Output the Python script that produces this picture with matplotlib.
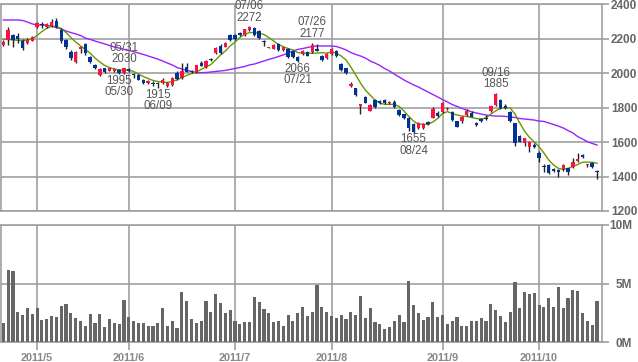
import numpy as np
import matplotlib
matplotlib.use("Agg")
import matplotlib.pyplot as plt

plt.rcParams['font.family'] = ['Liberation Sans', 'DejaVu Sans']

# ---------------- data ----------------
dates = [
    "04/20", "04/21", "04/22", "04/25", "04/26", "04/27", "04/28",
    "05/02", "05/06", "05/09", "05/10", "05/11", "05/12", "05/13", "05/16", "05/17", "05/18", "05/19",
    "05/20", "05/23", "05/24", "05/25", "05/26", "05/27", "05/30", "05/31",
    "06/01", "06/02", "06/03", "06/06", "06/07", "06/08", "06/09", "06/10", "06/13", "06/14", "06/15",
    "06/16", "06/17", "06/20", "06/21", "06/22", "06/23", "06/24", "06/27", "06/28", "06/29", "06/30",
    "07/01", "07/04", "07/05", "07/06", "07/07", "07/08", "07/11", "07/12", "07/13", "07/14", "07/15",
    "07/19", "07/20", "07/21", "07/22", "07/25", "07/26", "07/27", "07/28", "07/29",
    "08/01", "08/02", "08/03", "08/04", "08/05", "08/08", "08/09", "08/10", "08/11", "08/12", "08/15",
    "08/16", "08/17", "08/18", "08/19", "08/22", "08/23", "08/24", "08/25", "08/26", "08/29", "08/30", "08/31",
    "09/01", "09/02", "09/05", "09/06", "09/07", "09/08", "09/09", "09/12", "09/13", "09/14", "09/15",
    "09/16", "09/20", "09/21", "09/22", "09/26", "09/27", "09/28", "09/29", "09/30",
    "10/03", "10/04", "10/05", "10/06", "10/07", "10/11", "10/12", "10/13", "10/14", "10/17", "10/18",
    "10/19", "10/20",
]

opens = [
    2164, 2193, 2222, 2216, 2189, 2174, 2189,
    2270, 2285, 2268, 2274, 2305, 2251, 2193, 2125, 2067, 2142, 2167, 2096, 2048, 1990, 2028, 2015, 2010, 2019, 2000,
    2027, 1994, 1990, 1961, 1941, 1942, 1937, 1942, 1928, 1931, 2000, 1970, 2034, 2012, 2005, 2057, 2034, 2083, 2115, 2158, 2154, 2222,
    2222, 2232, 2222, 2250, 2262, 2247, 2185, 2148, 2141, 2168, 2135, 2139, 2131, 2096, 2110, 2121, 2121, 2141, 2102, 2090,
    2110, 2129, 2053, 2028, 1926, 1912, 1809, 1863, 1782, 1844, 1838, 1844, 1828, 1831, 1786, 1761, 1742, 1703, 1680, 1680, 1715, 1742, 1770,
    1776, 1790, 1777, 1720, 1720, 1757, 1770, 1713, 1733, 1742, 1780, 1815, 1844, 1810, 1777, 1709, 1635, 1593, 1573, 1583,
    1535, 1463, 1467, 1442, 1438, 1442, 1448, 1454, 1490, 1525, 1465, 1480, 1428,
]
highs = [
    2190, 2270, 2228, 2235, 2200, 2205, 2215,
    2300, 2295, 2290, 2312, 2318, 2260, 2200, 2135, 2128, 2158, 2177, 2102, 2052, 2030, 2032, 2030, 2030, 2022, 2030,
    2029, 2000, 1995, 1965, 1958, 1955, 1950, 1975, 1948, 1980, 2010, 2060, 2061, 2020, 2050, 2070, 2075, 2090, 2150, 2170, 2182, 2230,
    2230, 2238, 2258, 2272, 2268, 2252, 2190, 2155, 2168, 2175, 2155, 2145, 2135, 2100, 2132, 2128, 2177, 2170, 2108, 2115,
    2145, 2135, 2058, 2032, 1951, 1915, 1822, 1870, 1820, 1848, 1845, 1848, 1838, 1842, 1790, 1765, 1748, 1710, 1715, 1710, 1722, 1805, 1780,
    1835, 1805, 1782, 1725, 1750, 1790, 1778, 1718, 1740, 1755, 1812, 1885, 1850, 1820, 1780, 1712, 1640, 1625, 1605, 1592,
    1548, 1470, 1472, 1450, 1442, 1470, 1452, 1508, 1535, 1530, 1475, 1485, 1438,
]
lows = [
    2158, 2164, 2155, 2175, 2135, 2170, 2185,
    2265, 2260, 2262, 2270, 2262, 2175, 2142, 2078, 2058, 2120, 2108, 2058, 2022, 1985, 2003, 2010, 2005, 1995, 1998,
    2005, 1972, 1958, 1938, 1935, 1926, 1915, 1938, 1922, 1925, 1960, 1965, 2005, 2000, 2000, 2040, 2030, 2070, 2110, 2110, 2150, 2188,
    2190, 2215, 2218, 2245, 2215, 2198, 2158, 2145, 2138, 2130, 2130, 2090, 2090, 2066, 2105, 2098, 2118, 2128, 2072, 2082,
    2105, 2095, 2015, 1995, 1920, 1868, 1761, 1825, 1778, 1800, 1820, 1820, 1820, 1798, 1752, 1732, 1665, 1655, 1676, 1676, 1700, 1738, 1745,
    1770, 1785, 1722, 1685, 1710, 1752, 1745, 1692, 1715, 1730, 1775, 1812, 1795, 1790, 1718, 1577, 1598, 1575, 1544, 1568,
    1483, 1425, 1415, 1428, 1400, 1435, 1410, 1450, 1485, 1505, 1455, 1448, 1384,
]
closes = [
    2183, 2251, 2193, 2197, 2145, 2193, 2208,
    2293, 2278, 2285, 2295, 2266, 2189, 2150, 2087, 2125, 2154, 2115, 2067, 2028, 2026, 2009, 2028, 2027, 2003, 2028,
    2010, 1990, 1961, 1942, 1955, 1940, 1935, 1961, 1945, 1974, 1967, 2013, 2009, 2009, 2048, 2044, 2071, 2078, 2148, 2115, 2177, 2193,
    2197, 2222, 2255, 2268, 2222, 2203, 2182, 2152, 2164, 2135, 2150, 2096, 2096, 2070, 2129, 2102, 2164, 2131, 2077, 2110,
    2139, 2100, 2019, 1999, 1936, 1873, 1819, 1829, 1815, 1806, 1825, 1825, 1831, 1802, 1757, 1738, 1680, 1660, 1709, 1705, 1705, 1790, 1752,
    1825, 1799, 1728, 1690, 1747, 1782, 1748, 1697, 1720, 1734, 1809, 1880, 1800, 1796, 1724, 1593, 1602, 1622, 1602, 1573,
    1506, 1457, 1419, 1432, 1425, 1467, 1428, 1486, 1502, 1512, 1468, 1454, 1425,
]
volume_m = [
    1.66, 6.18, 6.04, 2.56, 2.30, 2.89, 2.39,
    2.89, 1.88, 1.97, 2.22, 2.13, 3.06, 3.23, 2.47, 2.05, 1.80, 1.38, 2.39, 1.63, 2.39, 1.29, 1.97, 1.63, 1.54, 3.57,
    2.13, 1.80, 1.63, 1.63, 1.38, 1.38, 1.63, 2.89, 1.38, 1.80, 1.21, 4.24, 3.48, 1.97, 1.63, 1.80, 3.48, 2.56, 4.07, 3.31, 2.47, 2.72,
    1.80, 1.54, 1.71, 1.71, 3.82, 3.40, 2.81, 2.47, 1.71, 1.80, 1.38, 2.30, 1.80, 2.47, 2.98, 2.22, 2.56, 4.83, 2.98, 2.56,
    2.22, 2.05, 2.30, 1.97, 2.56, 2.30, 3.90, 2.05, 2.89, 1.71, 1.54, 1.12, 1.29, 1.80, 2.30, 1.71, 5.25, 3.15, 2.47, 1.88, 2.13, 3.40, 2.13,
    2.30, 1.54, 1.80, 2.13, 1.38, 1.38, 1.80, 1.80, 2.05, 1.80, 3.23, 2.72, 2.22, 1.71, 2.56, 5.17, 2.89, 4.24, 4.07, 4.16,
    3.15, 2.98, 3.74, 2.98, 4.66, 2.89, 3.74, 4.41, 4.33, 2.47, 1.80, 1.46, 3.48,
]
ma_short = [
    2197, 2196, 2193, 2191, 2189, 2193, 2199,
    2219, 2242, 2261, 2272, 2271, 2260, 2236, 2207, 2181, 2158, 2138, 2116, 2088, 2065, 2045, 2033, 2024, 2019, 2019,
    2019, 2010, 1995, 1981, 1969, 1958, 1952, 1949, 1946, 1952, 1961, 1975, 1987, 1998, 2007, 2022, 2036, 2050, 2077, 2106, 2129, 2158,
    2181, 2207, 2225, 2236, 2236, 2233, 2225, 2207, 2187, 2167, 2154, 2143, 2135, 2120, 2116, 2116, 2116, 2117, 2119, 2117,
    2123, 2117, 2100, 2077, 2036, 1990, 1943, 1902, 1873, 1844, 1827, 1819, 1819, 1819, 1807, 1781, 1749, 1722, 1705, 1703, 1703, 1717, 1737,
    1766, 1777, 1766, 1757, 1752, 1749, 1743, 1737, 1734, 1740, 1763, 1781, 1796, 1800, 1798, 1763, 1711, 1664, 1627, 1601,
    1572, 1537, 1496, 1467, 1448, 1441, 1448, 1458, 1470, 1483, 1484, 1483, 1477,
]
ma_long = [
    2309, 2309, 2309, 2309, 2306, 2297, 2286,
    2280, 2280, 2277, 2274, 2265, 2257, 2245, 2236, 2228, 2219, 2204, 2196, 2187, 2178, 2170, 2161, 2152, 2146, 2138,
    2132, 2125, 2117, 2109, 2100, 2091, 2082, 2071, 2059, 2048, 2033, 2024, 2016, 2010, 2004, 2003, 2004, 2007, 2010, 2013, 2016, 2022,
    2027, 2033, 2039, 2048, 2053, 2062, 2071, 2080, 2088, 2097, 2106, 2117, 2129, 2138, 2143, 2149, 2155, 2158, 2158, 2158,
    2158, 2155, 2146, 2135, 2120, 2109, 2100, 2088, 2071, 2059, 2045, 2027, 2013, 1995, 1978, 1961, 1946, 1932, 1920, 1905, 1891, 1876, 1862,
    1847, 1833, 1818, 1807, 1796, 1786, 1776, 1769, 1763, 1757, 1754, 1751, 1751, 1749, 1746, 1743, 1737, 1734, 1731, 1728,
    1722, 1720, 1711, 1702, 1693, 1682, 1667, 1653, 1632, 1618, 1603, 1592, 1583,
]

month_starts = ["05/02", "06/01", "07/01", "08/01", "09/01", "10/03"]
month_labels = ["2011/5", "2011/6", "2011/7", "2011/8", "2011/9", "2011/10"]
price_ticks = [1200, 1400, 1600, 1800, 2000, 2200, 2400]
vol_ticks = [0, 5, 10]
vol_tick_labels = ["0M", "5M", "10M"]
# (date, which extreme is labelled)
marks = [("05/31", "high"), ("05/30", "low"), ("06/09", "low"), ("07/06", "high"),
         ("07/21", "low"), ("07/26", "high"), ("08/24", "low"), ("09/16", "high")]

# ---------------- styles ----------------
UP = "#ff1040"
DOWN = "#003399"
WICK = "#222222"
GRID = "#a0a0a0"
VOL = "#666666"
MA_S = "#669900"
MA_L = "#9922ff"

n = len(dates)
xs = np.arange(n)
o = np.array(opens, float); h = np.array(highs, float)
l = np.array(lows, float); c = np.array(closes, float)
month_idx = [dates.index(d) for d in month_starts]

fig = plt.figure(figsize=(6.38, 3.62), dpi=100)
L = 1 / 638
W = (601.5 - 1) / 638
ax = fig.add_axes([L, 1 - 211 / 362, W, (211 - 4.3) / 362])
axv = fig.add_axes([L, 1 - 342.3 / 362, W, (342.3 - 224.7) / 362])

xlim = (-0.476, 123.93)

# ---- price panel ----
ax.plot(xs, ma_long, color=MA_L, lw=1.0, zorder=2)
ax.plot(xs, ma_short, color=MA_S, lw=1.0, zorder=2)
ax.vlines(xs, l, h, color=WICK, lw=1.0, zorder=3)
up = c >= o
bottom = np.minimum(o, c)
height = np.maximum(np.abs(c - o), 6)
ax.bar(xs[up], height[up], bottom=bottom[up], width=0.7, color=UP, zorder=4, linewidth=0)
ax.bar(xs[~up], height[~up], bottom=bottom[~up], width=0.7, color=DOWN, zorder=4, linewidth=0)

for d, kind in marks:
    i = dates.index(d)
    if kind == "high":
        ax.annotate(f"{d}\n{highs[i]}", xy=(i, highs[i]), xytext=(0, 2.0), textcoords="offset points",
                    ha="center", va="bottom", fontsize=8.3, color="#555555", linespacing=0.95, zorder=5)
    else:
        ax.annotate(f"{lows[i]}\n{d}", xy=(i, lows[i]), xytext=(0, -0.5), textcoords="offset points",
                    ha="center", va="top", fontsize=8.3, color="#555555", linespacing=0.95, zorder=5)

ax.set_xlim(*xlim)
ax.set_ylim(1200, 2400)
ax.set_yticks(price_ticks)
ax.set_xticks(month_idx)
ax.grid(True, color=GRID, lw=1.2)
ax.set_axisbelow(True)
ax.yaxis.tick_right()
ax.tick_params(axis="x", length=0, labelbottom=False)
ax.tick_params(axis="y", length=4.7, width=1.2, color=GRID, pad=2, labelsize=8.5, labelcolor="#666666")
for lab in ax.get_yticklabels():
    lab.set_fontweight("bold")
for s in ax.spines.values():
    s.set_color(GRID)
    s.set_linewidth(1.2)

# ---- volume panel ----
axv.bar(xs, volume_m, width=0.65, color=VOL, linewidth=0, zorder=3)
axv.set_xlim(*xlim)
axv.set_ylim(0, 10)
axv.set_yticks(vol_ticks)
axv.set_yticklabels(vol_tick_labels)
axv.set_xticks(month_idx)
axv.set_xticklabels(month_labels)
axv.grid(True, color=GRID, lw=1.2)
axv.set_axisbelow(True)
axv.yaxis.tick_right()
axv.tick_params(axis="y", length=4.7, width=1.2, color=GRID, pad=17.5, labelsize=8.5, labelcolor="#666666")
for lab in axv.get_yticklabels():
    lab.set_fontweight("bold")
    lab.set_horizontalalignment("right")
axv.tick_params(axis="x", length=6, width=1.2, color=GRID, pad=1.5, labelsize=7.8, labelcolor="#888888")
for lab in axv.get_xticklabels():
    lab.set_fontweight("bold")
for s in axv.spines.values():
    s.set_color(GRID)
    s.set_linewidth(1.2)

fig.savefig("out.png", dpi=100)
